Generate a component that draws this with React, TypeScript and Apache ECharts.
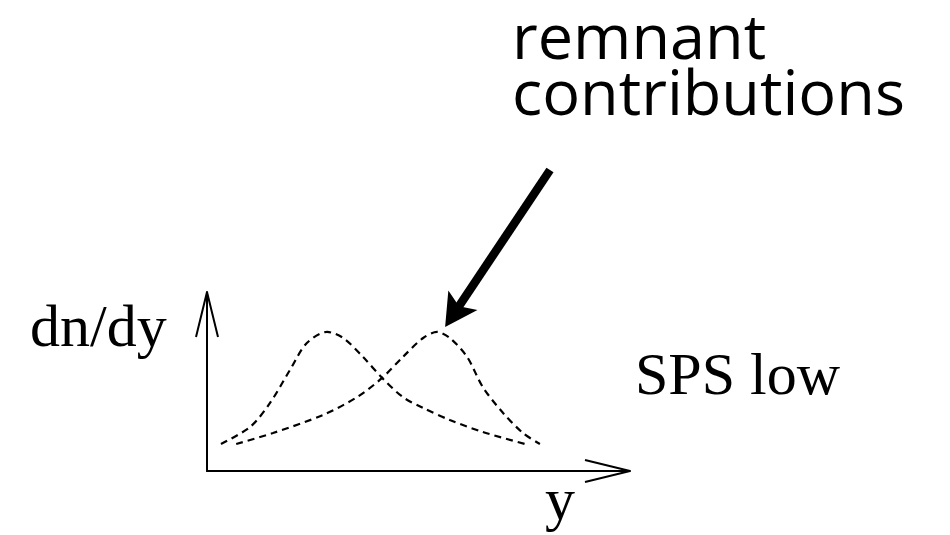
import React, { useEffect, useRef } from "react";
import * as echarts from "echarts";

// Curve (arbitrary units: x 0..100, y 0..100)
const centralX = [3.3, 10.2, 14.9, 19.6, 23.6, 28.4, 32.2, 36.9, 41.4, 46.3, 51.1, 57.4, 65.2, 75.2];
const centralY = [15.1, 24.6, 38.0, 56.4, 71.5, 77.7, 74.3, 63.7, 52.0, 41.3, 35.2, 28.5, 21.8, 15.1];
const remnantX = [6.9, 15.6, 27.4, 35.5, 41.4, 46.3, 51.1, 54.4, 57.4, 61.5, 65.2, 70.0, 74.7, 78.7];
const remnantY = [15.1, 21.2, 31.3, 41.3, 52.0, 63.7, 74.3, 77.7, 74.3, 63.7, 46.9, 32.4, 21.2, 15.1];

const yAxisLabel = "dn/dy";
const xAxisLabel = "y";
const conditionLabel = "SPS low";
const annotationLines = ["remnant", "contributions"];

export default function App() {
  const ref = useRef<HTMLDivElement>(null);
  useEffect(() => {
    if (!ref.current) return;
    const chart = echarts.init(ref.current, undefined, { renderer: "svg" });
    const zip = (xs: number[], ys: number[]) => xs.map((x, i) => [x, ys[i]]);
    const dash = { color: "#000", width: 2.2, type: [7, 5] as any };
    chart.setOption({
      animation: false,
      backgroundColor: "#fff",
      grid: { left: 207, right: 320, top: 292, bottom: 64 },
      xAxis: {
        type: "value", min: 0, max: 100,
        axisLine: { show: true, onZero: false, lineStyle: { color: "#000", width: 2 } },
        axisTick: { show: false }, axisLabel: { show: false }, splitLine: { show: false },
      },
      yAxis: {
        type: "value", min: 0, max: 100,
        axisLine: { show: true, onZero: false, lineStyle: { color: "#000", width: 2 } },
        axisTick: { show: false }, axisLabel: { show: false }, splitLine: { show: false },
      },
      series: [
        { name: "central", type: "line", data: zip(centralX, centralY), smooth: 0.3, showSymbol: false, lineStyle: dash },
        { name: "remnant", type: "line", data: zip(remnantX, remnantY), smooth: 0.3, showSymbol: false, lineStyle: dash },
      ],
    });

    const xe = chart.convertToPixel({ gridIndex: 0 }, [100, 0]) as number[];
    const ye = chart.convertToPixel({ gridIndex: 0 }, [0, 100]) as number[];
    let pi = 0;
    remnantY.forEach((v, i) => { if (v > remnantY[pi]) pi = i; });
    const peak = chart.convertToPixel({ gridIndex: 0 }, [remnantX[pi], remnantY[pi]]) as number[];
    const tip = [peak[0] + 8, peak[1] - 5];
    const tail = [550, 170];
    const dx = tail[0] - tip[0], dy = tail[1] - tip[1];
    const L = Math.hypot(dx, dy);
    const u = [dx / L, dy / L];
    const n = [-u[1], u[0]];
    const headLen = 32, halfW = 17.5, notch = 25;
    const pt = (a: number, p: number) => [tip[0] + u[0] * a + n[0] * p, tip[1] + u[1] * a + n[1] * p];

    const arm = 45, aw = 11;
    const serif = "'Liberation Serif', 'Times New Roman', serif";
    const sans = "'Open Sans', Lato, sans-serif";
    const sansSize = 63;
    const lineGap = 56;
    chart.setOption({
      graphic: [
        { type: "polyline", shape: { points: [[ye[0] - aw, ye[1] + arm], [ye[0], ye[1]], [ye[0] + aw, ye[1] + arm]] }, style: { stroke: "#000", lineWidth: 2, fill: null } },
        { type: "polyline", shape: { points: [[xe[0] - arm, xe[1] - aw], [xe[0], xe[1]], [xe[0] - arm, xe[1] + aw]] }, style: { stroke: "#000", lineWidth: 2, fill: null } },
        { type: "line", shape: { x1: pt(notch - 2, 0)[0], y1: pt(notch - 2, 0)[1], x2: tail[0], y2: tail[1] }, style: { stroke: "#000", lineWidth: 8.5 } },
        { type: "polygon", shape: { points: [pt(0, 0), pt(headLen, halfW), pt(notch, 0), pt(headLen, -halfW)] }, style: { fill: "#000" } },
        { type: "text", x: 30, y: 345 - 0.32 * 60, style: { text: yAxisLabel, font: `60px ${serif}`, fill: "#000", align: "left", verticalAlign: "middle" } },
        { type: "text", x: 545, y: 518 - 0.32 * 60, style: { text: xAxisLabel, font: `60px ${serif}`, fill: "#000", align: "left", verticalAlign: "middle" } },
        { type: "text", x: 635, y: 393 - 0.32 * 60, style: { text: conditionLabel, font: `60px ${serif}`, fill: "#000", align: "left", verticalAlign: "middle" } },
        { type: "text", x: 512, y: 57 - 0.35 * sansSize - lineGap / 2, style: { text: annotationLines.join("\n"), font: `${sansSize}px ${sans}`, lineHeight: lineGap, fill: "#000", align: "left", verticalAlign: "top" } },
      ],
    });
    return () => chart.dispose();
  }, []);
  return <div ref={ref} style={{ position: "fixed", left: 0, top: 0, width: 950, height: 535 }} />;
}
